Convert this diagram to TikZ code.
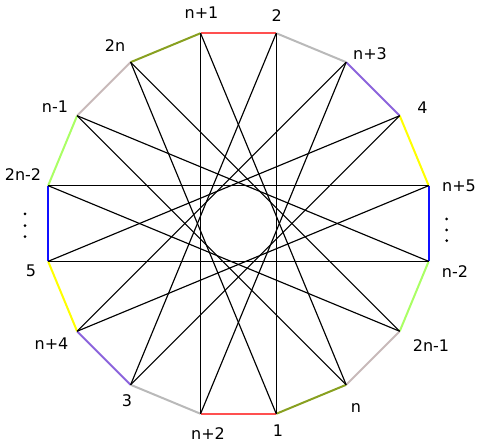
\documentclass[tikz,border=0pt]{standalone}
\usepackage{fontspec}
\setmainfont{DejaVu Sans}
\definecolor{cred}{RGB}{255,80,80}
\definecolor{cgray}{RGB}{185,185,185}
\definecolor{cpink}{RGB}{200,185,185}
\definecolor{colive}{RGB}{136,160,32}
\definecolor{cpurple}{RGB}{140,100,220}
\definecolor{cyellow}{RGB}{255,255,0}
\definecolor{cgreen}{RGB}{170,255,100}
\definecolor{cblue}{RGB}{16,16,255}
\tikzset{
  chord/.style={black, line width=1.15pt},
  side/.style={line width=2pt},
  lbl/.style={font=\fontsize{16}{19}\selectfont, inner sep=0pt},
  dotnode/.style={circle, fill=black, draw=none, inner sep=0pt, minimum size=3pt}
}
\begin{document}
\begin{tikzpicture}[x=1pt,y=1pt]
\useasboundingbox (0,0) rectangle (481,446);
\foreach \k in {0,...,15}
  \coordinate (v\k) at ({238.4+194*cos(101.25-22.5*\k)}, {222.5+194*sin(101.25-22.5*\k)});
% polygon sides
\foreach \a/\b/\c in {0/1/cred,1/2/cgray,2/3/cpurple,3/4/cyellow,4/5/cblue,5/6/cgreen,6/7/cpink,7/8/colive,8/9/cred,9/10/cgray,10/11/cpurple,11/12/cyellow,12/13/cblue,13/14/cgreen,14/15/cpink,15/0/colive}
  \draw[side, draw=\c] (v\a) -- (v\b);
% star chords {16/7}
\foreach \k in {0,...,15}{
  \pgfmathtruncatemacro{\j}{mod(\k+7,16)}
  \draw[chord] (v\k) -- (v\j);
}
% labels
\node[lbl] (l0) at (201.5,433.5) {n+1};
\node[lbl] (l1) at (276.7,430) {2};
\node[lbl] (l2) at (370,392) {n+3};
\node[lbl] (l3) at (422.5,338) {4};
\node[lbl] (l4) at (459,260) {n+5};
\node[lbl] (l5) at (455,174) {n-2};
\node[lbl] (l6) at (431,100) {2n-1};
\node[lbl] (l7) at (356,38) {n};
\node[lbl] (l8) at (278,15) {1};
\node[lbl] (l9) at (208,12) {n+2};
\node[lbl] (l10) at (127,45) {3};
\node[lbl] (l11) at (51.5,102) {n+4};
\node[lbl] (l12) at (31,175) {5};
\node[lbl] (l13) at (23,271) {2n-2};
\node[lbl] (l14) at (55,339) {n-1};
\node[lbl] (l15) at (115,400) {2n};
% vertical ellipses
\node[dotnode] (dl1) at (25,232) {};
\node[dotnode] (dl2) at (25,220.3) {};
\node[dotnode] (dl3) at (25,209.3) {};
\node[dotnode] (dr1) at (446.7,227) {};
\node[dotnode] (dr2) at (446.7,216) {};
\node[dotnode] (dr3) at (446.7,205.3) {};
\end{tikzpicture}
\end{document}
